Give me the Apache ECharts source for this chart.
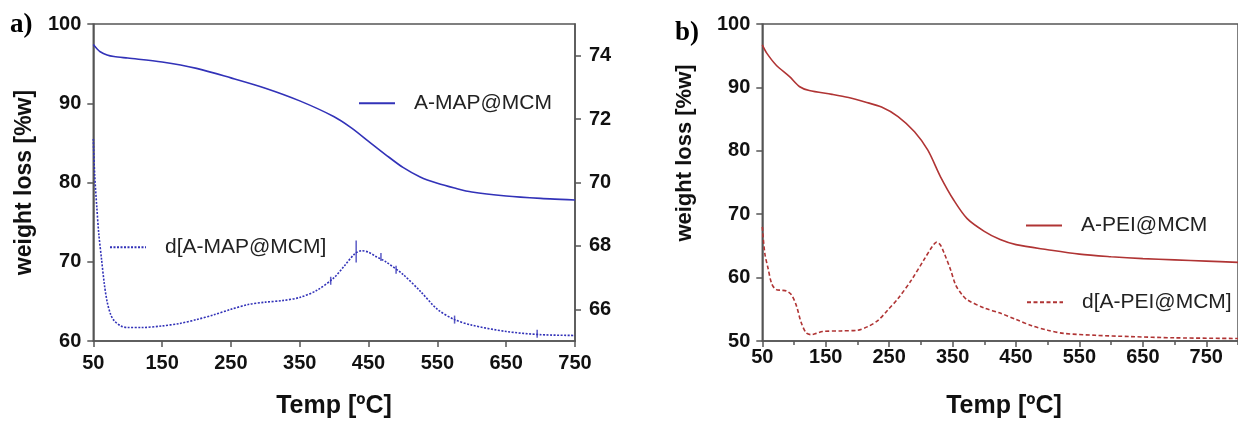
<!DOCTYPE html>
<html><head><meta charset="utf-8">
<script src="https://cdn.jsdelivr.net/npm/echarts@6/dist/echarts.min.js"></script>
<style>html,body{margin:0;padding:0;background:#fff}#c{width:1238px;height:421px}</style>
</head><body><div id="c"></div>
<script>
// ---- Panel a) A-MAP@MCM ----
const tempTgaA   = [50,55,60,70,80,100,150,200,250,300,350,400,425,450,475,500,525,550,575,600,650,700,750];
const weightTgaA = [97.4,96.9,96.5,96.1,95.9,95.7,95.2,94.4,93.2,91.9,90.3,88.3,86.9,85.2,83.5,81.9,80.7,79.9,79.3,78.8,78.3,78.0,77.8];
const tempDtgA   = [50,52,55,58,62,66,70,75,80,90,100,120,150,175,200,225,250,275,300,325,350,375,400,415,430,440,450,460,475,500,525,550,575,600,650,700,750];
const valDtgA    = [85.5,81,77,73.5,70.3,67.2,65,63.4,62.6,61.9,61.7,61.7,61.9,62.2,62.7,63.3,64.0,64.6,64.9,65.1,65.5,66.4,68.0,69.5,71.0,71.4,71.2,70.7,70.0,68.4,66.3,64.0,62.7,62.0,61.2,60.8,60.7];
const markTempA  = [395,432,468,490,575,695];
const markValA   = [67.6,71.3,70.6,69.0,62.7,60.9];
const xTicksA    = [50,150,250,350,450,550,650,750];
const rightTicksA= [66,68,70,72,74];

// ---- Panel b) A-PEI@MCM ----
const tempTgaB   = [50,57,72,93,109,124,160,186,212,238,264,290,311,331,352,373,400,425,450,500,550,600,650,700,750,800];
const weightTgaB = [96.7,95.4,93.5,91.7,90.1,89.5,88.9,88.4,87.7,86.9,85.4,83.0,80.1,75.9,72.2,69.3,67.3,66.0,65.2,64.4,63.7,63.3,63.0,62.8,62.6,62.4];
const tempDtgB   = [50,54,59,65,72,80,88,96,104,111,119,127,135,145,175,200,217,233,248,264,285,306,318,325,331,337,347,355,365,373,400,425,450,475,500,525,575,629,700,800];
const valDtgB    = [68.0,63.8,61.5,59.0,58.1,58.0,57.9,57.3,55.5,53.0,51.3,51.0,51.2,51.5,51.6,51.7,52.3,53.3,54.9,56.7,59.6,63.0,64.9,65.6,65.1,63.8,61.2,58.8,57.3,56.5,55.2,54.4,53.4,52.4,51.7,51.2,50.9,50.7,50.5,50.4];
const xLabelsB   = [50,150,250,350,450,550,650,750];
const xMinorB    = [100,200,300,400,500,600,700,800];

const zip = (xs, ys) => xs.map((x, i) => [x, ys[i]]);

const BLUE = '#3232b8', RED = '#b03434', AX = '#555';
const FONT = '"Liberation Sans", Arial, sans-serif';
const tickLbl = {fontFamily: FONT, fontWeight: 'bold', fontSize: 20, color: '#111'};
const axLine = {show: true, lineStyle: {color: AX, width: 1.5}};
const tick = (len, vals) => ({show: true, inside: false, length: len, lineStyle: {color: AX, width: 1.5}, customValues: vals});
const legendTxt = {fontFamily: FONT, fontSize: 21, color: '#222', padding: [0, 0, 0, 14]};

const chart = echarts.init(document.getElementById('c'), null, {renderer: 'canvas'});
const mkLegend = (name, left, top) => ({
  data: [name], left, top, padding: 0, itemWidth: 36, itemHeight: 20,
  textStyle: legendTxt, selectedMode: false, itemStyle: {opacity: 0, borderWidth: 0}
});
const lineSeries = (name, xi, yi, data, color, type) => ({
  name, type: 'line', xAxisIndex: xi, yAxisIndex: yi, data,
  symbol: 'none', smooth: 0.3, lineStyle: {color, width: 1.6, type}, itemStyle: {color}
});

chart.setOption({
  animation: false,
  backgroundColor: '#fff',
  grid: [
    {left: 93.3, top: 24, right: 663, bottom: 80, show: true, borderColor: AX, borderWidth: 1.5, containLabel: false},
    {left: 762.3, top: 24, right: -6.5, bottom: 80, show: true, borderColor: AX, borderWidth: 1.5, containLabel: false}
  ],
  xAxis: [
    {type: 'value', gridIndex: 0, min: 50, max: 750, position: 'bottom',
     axisLine: axLine, axisTick: tick(6, xTicksA), splitLine: {show: false},
     axisLabel: Object.assign({margin: 12, customValues: xTicksA}, tickLbl)},
    {type: 'value', gridIndex: 1, min: 50, max: 800, position: 'bottom',
     axisLine: axLine, axisTick: tick(6, xLabelsB), splitLine: {show: false},
     axisLabel: Object.assign({margin: 6, customValues: xLabelsB}, tickLbl)},
    {type: 'value', gridIndex: 1, min: 50, max: 800, position: 'bottom',
     axisLine: {show: false}, axisTick: tick(4, xMinorB), splitLine: {show: false},
     axisLabel: {show: false}}
  ],
  yAxis: [
    {type: 'value', gridIndex: 0, min: 60, max: 100, interval: 10, position: 'left',
     axisLine: axLine, axisTick: {show: true, length: 6, lineStyle: {color: AX, width: 1.5}},
     splitLine: {show: false}, axisLabel: Object.assign({margin: 12}, tickLbl)},
    {type: 'value', gridIndex: 0, min: 65, max: 75, position: 'right',
     axisLine: axLine, axisTick: tick(6, rightTicksA),
     splitLine: {show: false}, axisLabel: Object.assign({margin: 14, customValues: rightTicksA}, tickLbl)},
    {type: 'value', gridIndex: 1, min: 50, max: 100, interval: 10, position: 'left',
     axisLine: axLine, axisTick: {show: true, length: 6, lineStyle: {color: AX, width: 1.5}},
     splitLine: {show: false}, axisLabel: Object.assign({margin: 12}, tickLbl)}
  ],
  legend: [
    mkLegend('A-MAP@MCM', 358, 92.7),
    mkLegend('d[A-MAP@MCM]', 109, 236.7),
    mkLegend('A-PEI@MCM', 1025, 215),
    mkLegend('d[A-PEI@MCM]', 1026, 291.7)
  ],
  series: [
    lineSeries('A-MAP@MCM', 0, 0, zip(tempTgaA, weightTgaA), BLUE, 'solid'),
    lineSeries('d[A-MAP@MCM]', 0, 0, zip(tempDtgA, valDtgA), BLUE, [2, 1.5]),
    {name: 'marksA', type: 'scatter', xAxisIndex: 0, yAxisIndex: 0, data: zip(markTempA, markValA),
     symbol: 'rect', symbolSize: (v, p) => [1.5, p.dataIndex === 1 ? 22 : 8], itemStyle: {color: BLUE}, silent: true},
    lineSeries('A-PEI@MCM', 1, 2, zip(tempTgaB, weightTgaB), RED, 'solid'),
    lineSeries('d[A-PEI@MCM]', 1, 2, zip(tempDtgB, valDtgB), RED, [4, 2.5])
  ],
  graphic: [
    {type: 'text', left: 10, top: 12, style: {text: 'a)', font: 'bold 27px "Liberation Serif", "Times New Roman", serif', fill: '#000'}},
    {type: 'text', left: 675, top: 20, style: {text: 'b)', font: 'bold 27px "Liberation Serif", "Times New Roman", serif', fill: '#000'}},
    {type: 'text', x: 25, y: 182.5, rotation: Math.PI / 2,
     style: {text: 'weight loss [%w]', font: 'bold 23px ' + FONT, fill: '#111', align: 'center', verticalAlign: 'middle'}},
    {type: 'text', x: 685, y: 153, rotation: Math.PI / 2,
     style: {text: 'weight loss [%w]', font: 'bold 22px ' + FONT, fill: '#111', align: 'center', verticalAlign: 'middle'}},
    {type: 'text', x: 334, y: 406,
     style: {text: 'Temp [ºC]', font: 'bold 25px ' + FONT, fill: '#111', align: 'center', verticalAlign: 'middle'}},
    {type: 'text', x: 1004, y: 406,
     style: {text: 'Temp [ºC]', font: 'bold 25px ' + FONT, fill: '#111', align: 'center', verticalAlign: 'middle'}}
  ]
});
</script></body></html>
